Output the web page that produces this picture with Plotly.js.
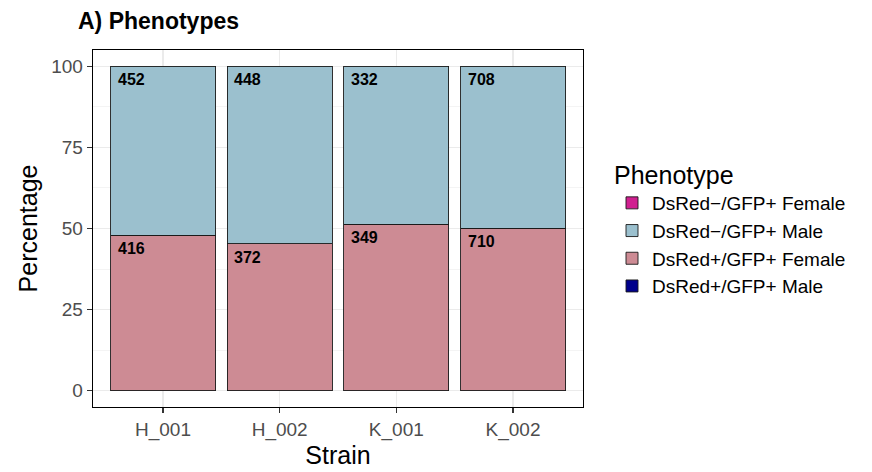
<!DOCTYPE html>
<html>
<head>
<meta charset="utf-8">
<script src="https://cdn.plot.ly/plotly-3.0.1.min.js"></script>
<style>
html,body{margin:0;padding:0;background:#fff;}
#chart{width:872px;height:472px;}
</style>
</head>
<body>
<div id="chart"></div>
<script>
var strains = ["H_001", "H_002", "K_001", "K_002"];
var phenotypes = ["DsRed\u2212/GFP+ Female", "DsRed\u2212/GFP+ Male", "DsRed+/GFP+ Female", "DsRed+/GFP+ Male"];
var colors = ["#D02090", "#9BC0CE", "#CD8B94", "#00008B"];
var countsRedNegFemale = [0, 0, 0, 0];
var countsRedNegMale = [452, 448, 332, 708];
var countsRedPosFemale = [416, 372, 349, 710];
var countsRedPosMale = [0, 0, 0, 0];

var allCounts = [countsRedNegFemale, countsRedNegMale, countsRedPosFemale, countsRedPosMale];
var totals = strains.map(function(s, i){
  return allCounts.reduce(function(a, c){ return a + c[i]; }, 0);
});
function pct(arr){ return arr.map(function(v, i){ return v > 0 ? 100 * v / totals[i] : null; }); }

var font = "Liberation Sans, Arial, Helvetica, sans-serif";
var traces = [];
// stack from bottom: reverse of legend order
for (var k = phenotypes.length - 1; k >= 0; k--) {
  traces.push({
    type: "bar",
    name: phenotypes[k],
    x: strains,
    y: pct(allCounts[k]),
    marker: {color: colors[k], line: {color: "#1a1a1a", width: 0.9}},
    width: 0.9,
    hoverinfo: "x+y+name"
  });
}

var annotations = [];
for (var k = 0; k < phenotypes.length; k++) {
  strains.forEach(function(s, i){
    if (allCounts[k][i] > 0) {
      var top = 0;
      for (var j = k; j < phenotypes.length; j++) { if (allCounts[j][i] > 0) top += 100 * allCounts[j][i] / totals[i]; }
      annotations.push({
        x: i - 0.45, y: top, xref: "x", yref: "y",
        text: "<b>" + allCounts[k][i] + "</b>",
        showarrow: false, xanchor: "left", yanchor: "top",
        xshift: 5, yshift: -3,
        font: {family: font, size: 16, color: "#000"}
      });
    }
  });
}

var layout = {
  width: 872, height: 472,
  margin: {l: 93, r: 289, t: 50, b: 65},
  paper_bgcolor: "#fff", plot_bgcolor: "#fff",
  barmode: "stack",
  bargap: 0.1,
  font: {family: font},
  title: {text: "<b>A) Phenotypes</b>", x: 78/872, xanchor: "left", xref: "container",
          y: 1 - 21/472, yanchor: "middle", yref: "container",
          font: {family: font, size: 23, color: "#000"}},
  xaxis: {
    type: "category", range: [-0.6, 3.6],
    showgrid: true, gridcolor: "#EBEBEB", gridwidth: 1.1,
    showline: true, mirror: true, linecolor: "#000", linewidth: 1.3,
    ticks: "outside", ticklen: 5, tickcolor: "#333", tickwidth: 1.1,
    tickfont: {family: font, size: 19, color: "#4D4D4D"},
    title: {text: "Strain", font: {family: font, size: 25, color: "#000"}, standoff: 6},
    zeroline: false
  },
  yaxis: {
    range: [-5, 105], tickvals: [0, 25, 50, 75, 100],
    showgrid: true, gridcolor: "#EBEBEB", gridwidth: 1.1,
    minor: {tickvals: [12.5, 37.5, 62.5, 87.5], showgrid: true, gridcolor: "#EBEBEB", gridwidth: 0.55, ticks: ""},
    showline: true, mirror: true, linecolor: "#000", linewidth: 1.3,
    ticks: "outside", ticklen: 5, tickcolor: "#333", tickwidth: 1.1,
    tickfont: {family: font, size: 19, color: "#4D4D4D"},
    title: {text: "Percentage", font: {family: font, size: 25, color: "#000"}, standoff: 6},
    zeroline: false
  },
  legend: {
    x: 612/872, xref: "container", xanchor: "left",
    y: 0.5, yanchor: "middle",
    traceorder: "reversed",
    title: {text: "Phenotype", font: {family: font, size: 25, color: "#000"}},
    font: {family: font, size: 19, color: "#000"},
    tracegroupgap: 0, itemwidth: 30, bgcolor: "rgba(0,0,0,0)"
  },
  annotations: annotations,
  showlegend: true
};

Plotly.newPlot("chart", traces, layout, {displayModeBar: false, staticPlot: true});
</script>
</body>
</html>
